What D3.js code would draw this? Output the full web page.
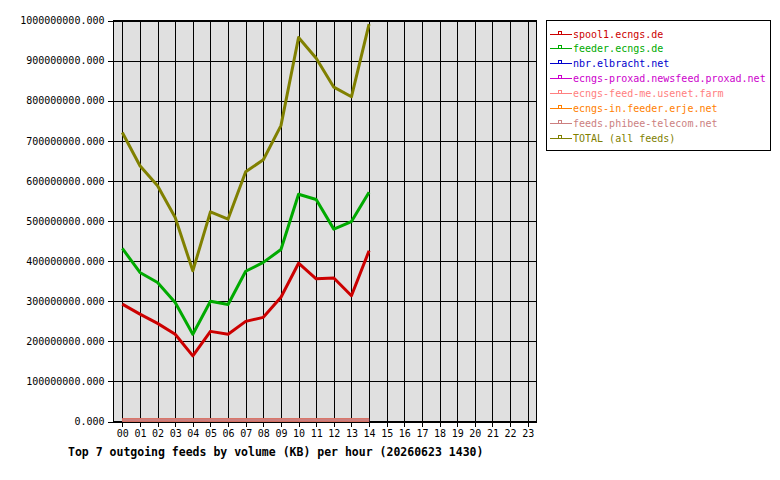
<!DOCTYPE html>
<meta charset="utf-8">
<script src="https://cdn.jsdelivr.net/npm/d3@7"></script>
<style>
  body { margin: 0; background: #fff; }
  text { font-family: "DejaVu Sans Mono", "Liberation Mono", monospace; }
</style>
<div id="chart"></div>
<script>

// hours on the x axis
var hours = ["00","01","02","03","04","05","06","07","08","09","10","11",
             "12","13","14","15","16","17","18","19","20","21","22","23"];

// feed names (legend order)
var feeds = [
  "spool1.ecngs.de",
  "feeder.ecngs.de",
  "nbr.elbracht.net",
  "ecngs-proxad.newsfeed.proxad.net",
  "ecngs-feed-me.usenet.farm",
  "ecngs-in.feeder.erje.net",
  "feeds.phibee-telecom.net",
  "TOTAL (all feeds)"
];

var feedColors = ["#cc0000", "#00aa00", "#0000cc", "#cc00cc",
                  "#ff8080", "#ff8000", "#cc7f7f", "#808000"];

// KB per hour, hours 00..14
var spool1 = [289e6, 264e6, 241e6, 214e6, 160e6, 221e6, 214e6, 246e6, 256e6, 306e6, 391e6, 352e6, 354e6, 310e6, 422e6];
var feeder = [428e6, 368e6, 343e6, 293e6, 214e6, 296e6, 288e6, 371e6, 393e6, 425e6, 563e6, 550e6, 476e6, 495e6, 568e6];
var nbr    = [0,0,0,0,0,0,0,0,0,0,0,0,0,0,0];
var proxad = [0,0,0,0,0,0,0,0,0,0,0,0,0,0,0];
var feedme = [0,0,0,0,0,0,0,0,0,0,0,0,0,0,0];
var erje   = [0,0,0,0,0,0,0,0,0,0,0,0,0,0,0];
var phibee = [0,0,0,0,0,0,0,0,0,0,0,0,0,0,0];
var total  = [717e6, 634e6, 584e6, 505e6, 372e6, 519e6, 501e6, 619e6, 649e6, 734e6, 954e6, 902e6, 830e6, 806e6, 987e6];

var series = [spool1, feeder, nbr, proxad, feedme, erje, phibee, total];

var yTicks = d3.range(0, 1000000001, 100000000);
var title = "Top 7 outgoing feeds by volume (KB) per hour (20260623 1430)";

var W = 780, H = 480;
var plot = {left: 113.5, right: 536.5, top: 20.5, bottom: 421.5};

var svg = d3.select("#chart").append("svg")
  .attr("width", W).attr("height", H)
  .style("display", "block");

var x = d3.scalePoint()
  .domain(hours)
  .range([plot.left, plot.right])
  .padding(0.5);

var y = d3.scaleLinear()
  .domain([0, 1000000000])
  .range([plot.bottom, plot.top]);

// plot background
svg.append("rect")
  .attr("x", plot.left).attr("y", plot.top)
  .attr("width", plot.right - plot.left)
  .attr("height", plot.bottom - plot.top)
  .attr("fill", "#e0e0e0");

// grid
svg.append("g").selectAll("line")
  .data(yTicks)
  .enter().append("line")
    .attr("x1", plot.left).attr("x2", plot.right)
    .attr("y1", d => Math.round(y(d)) + 0.5)
    .attr("y2", d => Math.round(y(d)) + 0.5)
    .attr("stroke", "#000").attr("shape-rendering", "crispEdges");

svg.append("g").selectAll("line")
  .data(hours)
  .enter().append("line")
    .attr("x1", d => Math.round(x(d)) + 0.5)
    .attr("x2", d => Math.round(x(d)) + 0.5)
    .attr("y1", plot.top).attr("y2", plot.bottom)
    .attr("stroke", "#000").attr("shape-rendering", "crispEdges");

// border
svg.append("rect")
  .attr("x", plot.left).attr("y", plot.top)
  .attr("width", plot.right - plot.left)
  .attr("height", plot.bottom - plot.top)
  .attr("fill", "none").attr("stroke", "#000")
  .attr("shape-rendering", "crispEdges");

// axes
var yAxis = svg.append("g")
  .attr("transform", "translate(" + plot.left + ",0)")
  .call(d3.axisLeft(y)
    .tickValues(yTicks)
    .tickFormat(d3.format(".3f"))
    .tickSize(6)
    .tickPadding(3));

var xAxis = svg.append("g")
  .attr("transform", "translate(0," + plot.bottom + ")")
  .call(d3.axisBottom(x)
    .tickSize(5)
    .tickPadding(3));

[yAxis, xAxis].forEach(function(a) {
  a.select(".domain").remove();
  a.selectAll("line").attr("stroke", "#000").attr("shape-rendering", "crispEdges");
  a.selectAll("text")
    .attr("fill", "#000")
    .style("font-family", '"DejaVu Sans Mono", monospace')
    .style("font-size", "10px");
});

// data lines (thick lines sit just above their point, like the original renderer)
var line = d3.line()
  .x((d, i) => x(hours[i]))
  .y(d => y(d));

svg.append("g")
  .attr("transform", "translate(0,-1.5)")
  .selectAll("path")
  .data(series)
  .enter().append("path")
    .attr("d", line)
    .attr("fill", "none")
    .attr("stroke", (d, i) => feedColors[i])
    .attr("stroke-width", 3)
    .attr("stroke-linejoin", "round");

// legend
var legend = svg.append("g");
legend.append("rect")
  .attr("x", 546.5).attr("y", 20.5)
  .attr("width", 224).attr("height", 130)
  .attr("fill", "#fff").attr("stroke", "#000")
  .attr("shape-rendering", "crispEdges");

var item = legend.selectAll("g.item")
  .data(feeds)
  .enter().append("g")
    .attr("class", "item")
    .attr("transform", (d, i) => "translate(0," + (33.5 + i * 14.9) + ")");

item.append("line")
  .attr("x1", 550).attr("x2", 572)
  .attr("y1", 0.5).attr("y2", 0.5)
  .attr("stroke", (d, i) => feedColors[i])
  .attr("shape-rendering", "crispEdges");

item.append("rect")
  .attr("x", 558.5).attr("y", -2.5)
  .attr("width", 3).attr("height", 3)
  .attr("fill", "none")
  .attr("stroke", (d, i) => feedColors[i])
  .attr("shape-rendering", "crispEdges");

item.append("text")
  .attr("x", 573).attr("y", 4)
  .attr("fill", (d, i) => feedColors[i])
  .style("font-size", "10px")
  .text(d => d);

// title
svg.append("text")
  .attr("x", 68).attr("y", 456)
  .style("font-size", "11.5px")
  .style("font-weight", "bold")
  .attr("fill", "#000")
  .text(title);

</script>
